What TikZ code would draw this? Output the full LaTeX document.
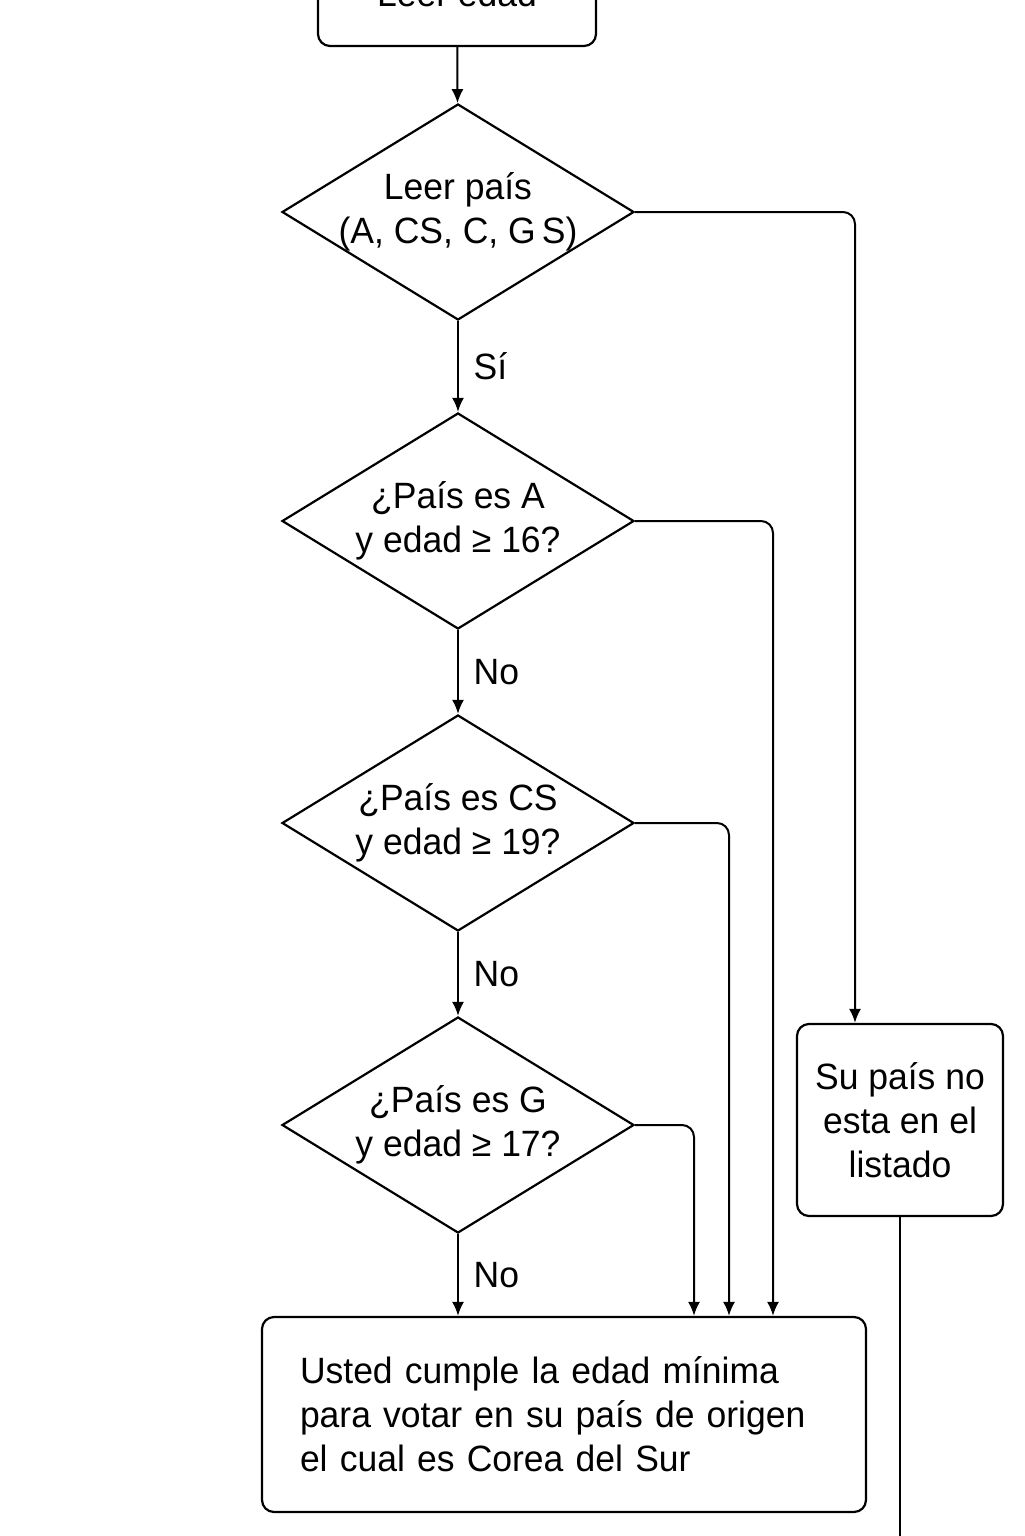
\documentclass[tikz,border=0pt]{standalone}
\usepackage{fontspec}
\setmainfont[FakeStretch=0.97]{Liberation Sans}
\usetikzlibrary{shapes.geometric,arrows.meta}

\begin{document}
\begin{tikzpicture}[x=0.5pt,y=-0.5pt,
    font=\fontsize{18.3pt}{22pt}\selectfont,
    decision/.style ={diamond, draw, line width=1.1pt, inner sep=0pt, minimum width=176pt, minimum height=108pt},
    process/.style ={rectangle, draw, line width=1.1pt, rounded corners=6pt},
    flow/.style ={line width=1pt, rounded corners=6pt, -{Latex[length=7pt,width=6pt]}}]
   \clip (0,0) rectangle (1024,1536);
   \node[process, minimum width=139pt, minimum height=53pt] (edad) at (457,-7) {Leer edad};
   \node[decision, label={[align=center]center:{Leer país\\(A, CS, C, G\,S)}}] (pais) at (458,212) {};
   \node[decision, label={[align=center]center:{¿País es A\\y edad ≥ 16?}}] (esA) at (458,521) {};
   \node[decision, label={[align=center]center:{¿País es CS\\y edad ≥ 19?}}] (esCS) at (458,823) {};
   \node[decision, label={[align=center]center:{¿País es G\\y edad ≥ 17?}}] (esG) at (458,1125) {};
   \node[process, minimum width=103pt, minimum height=96pt, align=center] (nolist) at (900,1120) {Su país no\\esta en el\\listado};
   \node[process, minimum width=302pt, minimum height=97.5pt, text width=264pt, align=left] (resultado) at (564,1414.5)
     {Usted cumple la edad mínima\\para votar en su país de origen\\el cual es Corea del Sur};
   \coordinate (fin) at (902,1560);
   \draw[flow] (edad) -- (pais);
   \draw[flow] (pais.east) -| ([xshift=-22.5pt]nolist.north);
   \draw[flow] (pais) -- node[right=4pt] {Sí} (esA);
   \draw[flow] (esA.east) -| ([xshift=104.5pt]resultado.north);
   \draw[flow] (esA) -- node[right=4pt] {No} (esCS);
   \draw[flow] (esCS.east) -| ([xshift=82.5pt]resultado.north);
   \draw[flow] (esCS) -- node[right=4pt] {No} (esG);
   \draw[flow] (esG.east) -| ([xshift=65pt]resultado.north);
   \draw[flow] (esG) -- node[right=4pt] {No} (esG |- resultado.north);
   \draw[line width=1pt] (nolist.south) -- (nolist.south |- fin);
 \end{tikzpicture}
\end{document}
